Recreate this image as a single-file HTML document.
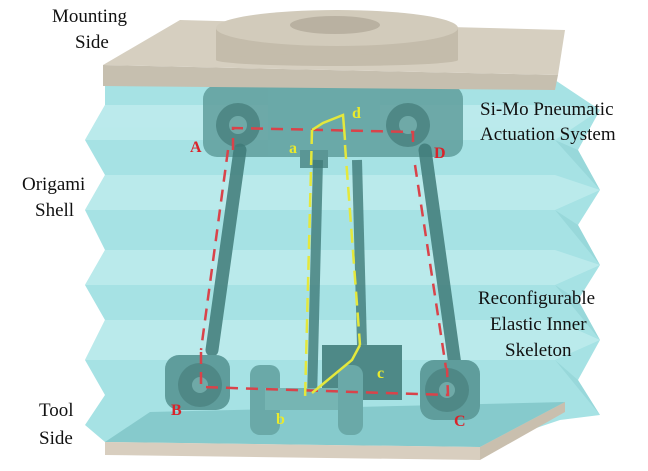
<!DOCTYPE html>
<html><head><meta charset="utf-8"><style>
html,body{margin:0;padding:0;background:#fff;}
svg{display:block}
text{font-family:"Liberation Serif",serif;}
</style></head><body>
<svg width="648" height="471" viewBox="0 0 648 471" xmlns="http://www.w3.org/2000/svg">
<rect width="648" height="471" fill="#fff"/>
<!-- origami shell -->
<polygon points="105,80 555,80 600,110 578,150 600,190 578,225 600,265 578,300 600,340 578,380 600,415 560,420 480,447 105,442 85,425 105,395 85,360 105,320 85,285 105,250 85,210 105,175 85,140 105,105" fill="#a6e2e4"/>
<g fill="#c0eced" opacity="0.8">
<polygon points="105,105 555,105 600,110 555,140 105,140 85,140"/>
<polygon points="105,175 555,175 600,190 555,210 105,210 85,210"/>
<polygon points="105,250 555,250 600,265 555,285 105,285 85,285"/>
<polygon points="105,320 555,320 600,340 555,360 105,360 85,360"/>
</g>
<g fill="#93d4d7" opacity="0.7">
<polygon points="555,140 600,190 578,150"/>
<polygon points="555,210 600,265 578,225"/>
<polygon points="555,285 600,340 578,300"/>
<polygon points="555,360 600,415 578,380"/>
</g>
<!-- bottom plate -->
<polygon points="105,442 150,412 565,402 480,447" fill="#86cacc"/>
<polygon points="105,442 480,447 480,460 105,455" fill="#d8cebf"/>
<polygon points="480,447 565,402 565,412 480,460" fill="#c9bfae"/>
<!-- actuator block -->
<rect x="203" y="85" width="260" height="72" rx="14" fill="#5f9d9c" opacity="0.85"/>
<rect x="268" y="88" width="112" height="68" fill="#6aa9a8"/>
<rect x="300" y="150" width="28" height="18" fill="#5a9695"/>
<circle cx="238" cy="125" r="22" fill="#4f8886"/><circle cx="238" cy="125" r="9" fill="#6fa9a7"/>
<circle cx="408" cy="125" r="22" fill="#4f8886"/><circle cx="408" cy="125" r="9" fill="#6fa9a7"/>
<!-- legs -->
<g stroke="#3f7b79" stroke-width="13" stroke-linecap="round" opacity="0.85">
<line x1="240" y1="150" x2="212" y2="350"/>
<line x1="425" y1="150" x2="455" y2="365"/>
</g>
<g stroke="#3f7b79" stroke-width="10" opacity="0.8">
<line x1="318" y1="160" x2="312" y2="400"/>
<line x1="357" y1="160" x2="362" y2="345"/>
</g>
<!-- bottom joints -->
<rect x="165" y="355" width="65" height="55" rx="14" fill="#5f9d9c"/>
<circle cx="200" cy="385" r="22" fill="#4f8886"/><circle cx="200" cy="385" r="8" fill="#6fa9a7"/>
<rect x="322" y="345" width="80" height="55" fill="#4e8987"/>
<rect x="250" y="365" width="30" height="70" rx="10" fill="#6aa9a8"/>
<rect x="265" y="388" width="80" height="22" fill="#76b5b3"/>
<rect x="338" y="365" width="25" height="70" rx="10" fill="#6aa9a8"/>
<rect x="420" y="360" width="60" height="60" rx="14" fill="#5f9d9c"/>
<circle cx="447" cy="390" r="22" fill="#4f8886"/><circle cx="447" cy="390" r="8" fill="#6fa9a7"/>
<!-- top plate -->
<polygon points="103,65 558,75 555,90 103,86" fill="#c6bfaf"/>
<polygon points="103,65 180,20 565,30 558,75" fill="#d6cfc0"/>
<rect x="216" y="28" width="242" height="32" fill="#c4bcab"/>
<ellipse cx="337" cy="60" rx="121" ry="6" fill="#c4bcab"/>
<ellipse cx="337" cy="28" rx="121" ry="18" fill="#d2cbbb"/>
<ellipse cx="335" cy="25" rx="45" ry="9" fill="#b9b1a1"/>
<!-- red dashed -->
<g stroke="#d9434a" stroke-width="2.5" fill="none" stroke-dasharray="12,8">
<polyline points="233,150 233,128 413,132 413,150"/>
<line x1="228" y1="150" x2="201" y2="350"/>
<polyline points="201,352 201,387 448,395 447,368"/>
<line x1="415" y1="165" x2="446" y2="368"/>
</g>
<!-- yellow dashed -->
<g stroke="#e4e83c" stroke-width="2.5" fill="none">
<polyline points="312,130 323,123 343,115 345,140"/>
<line x1="312" y1="130" x2="305" y2="400" stroke-dasharray="14,7"/>
<line x1="345" y1="145" x2="360" y2="345" stroke-dasharray="14,7"/>
<polyline points="360,345 352,360 312,393"/>
</g>
<!-- labels -->
<g font-weight="bold" font-size="16">
<text x="190" y="152" fill="#d9232a">A</text>
<text x="434" y="158" fill="#d9232a">D</text>
<text x="171" y="415" fill="#d9232a">B</text>
<text x="454" y="426" fill="#d9232a">C</text>
<text x="289" y="153" fill="#e9ea2c">a</text>
<text x="352" y="118" fill="#e9ea2c">d</text>
<text x="276" y="424" fill="#e9ea2c">b</text>
<text x="377" y="378" fill="#e9ea2c">c</text>
</g>
<g font-size="19" fill="#111">
<text x="52" y="22">Mounting</text>
<text x="75" y="48">Side</text>
<text x="480" y="115">Si-Mo Pneumatic</text>
<text x="480" y="140">Actuation System</text>
<text x="22" y="190">Origami</text>
<text x="35" y="216">Shell</text>
<text x="478" y="304">Reconfigurable</text>
<text x="490" y="330">Elastic Inner</text>
<text x="505" y="356">Skeleton</text>
<text x="39" y="416">Tool</text>
<text x="39" y="444">Side</text>
</g>
</svg>
</body></html>
